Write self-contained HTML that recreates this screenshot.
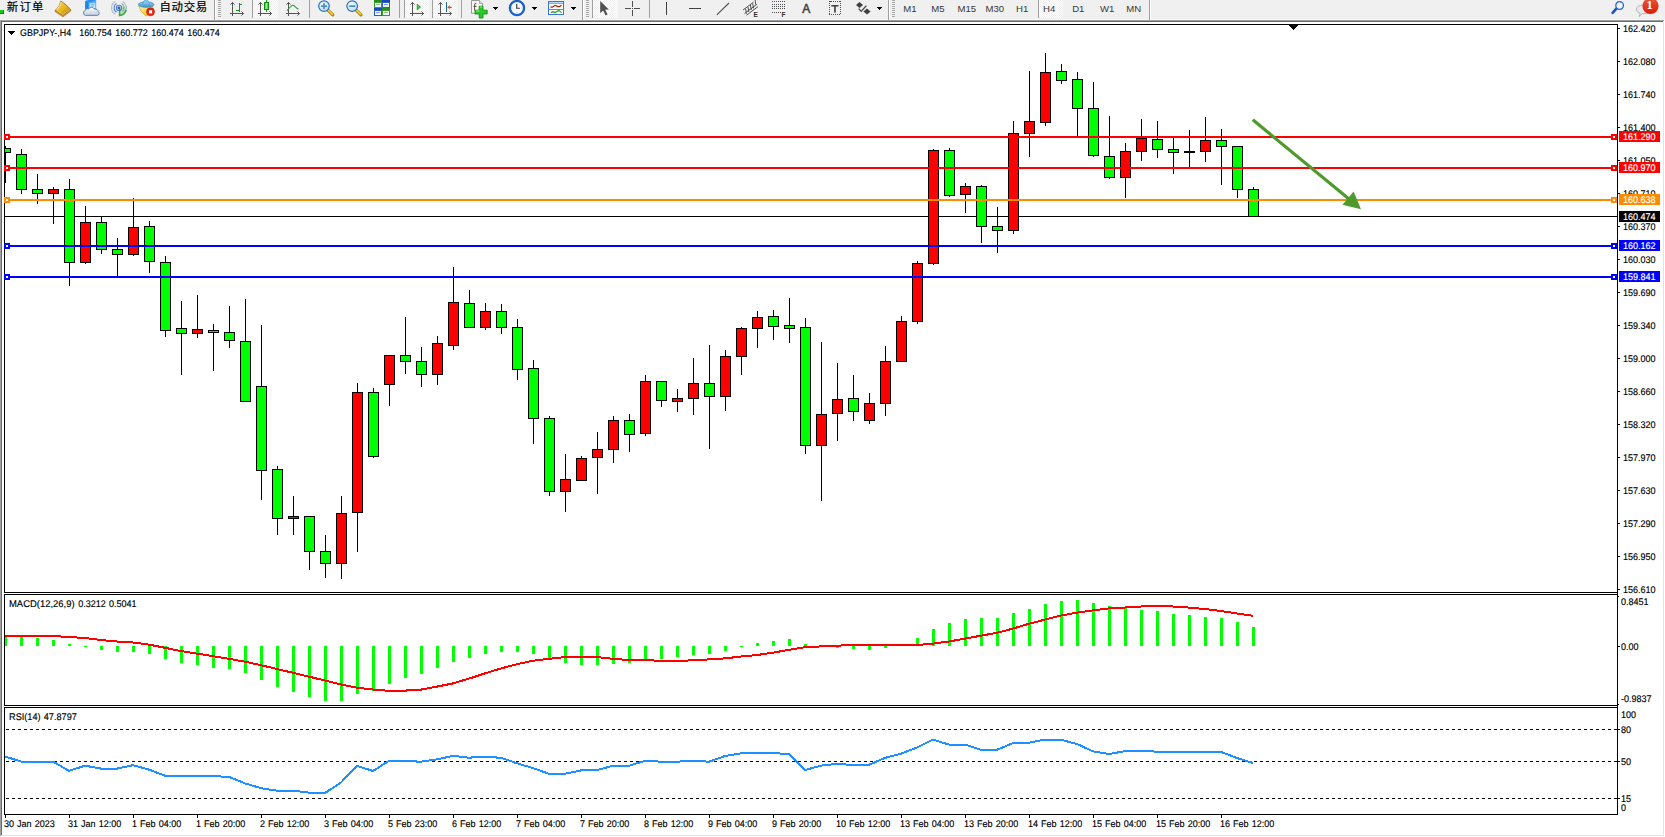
<!DOCTYPE html>
<html lang="zh"><head><meta charset="utf-8"><title>GBPJPY-,H4</title>
<style>
html,body{margin:0;padding:0;background:#fff;}
body{width:1665px;height:837px;position:relative;overflow:hidden;font-family:"Liberation Sans","Noto Sans CJK SC",sans-serif;}
#tb{position:absolute;left:0;top:0;width:1665px;height:20px;background:#f0f0f0;overflow:hidden;}
#tb .t{position:absolute;top:0;font-size:12px;line-height:14px;color:#000;white-space:nowrap;}
#tb .p{position:absolute;top:3px;font-size:11px;line-height:12px;color:#222;white-space:nowrap;}
</style></head><body>
<svg id="chart" width="1665" height="837" viewBox="0 0 1665 837" style="position:absolute;left:0;top:0" shape-rendering="crispEdges" font-family="Liberation Sans, sans-serif" font-size="9.7" text-rendering="geometricPrecision" word-spacing="0.6" stroke-width="0.15">
<rect x="0" y="19" width="1665" height="1" fill="#f6f6f6"/>
<rect x="0" y="20" width="1664" height="1" fill="#a0a0a0"/>
<rect x="0" y="21" width="1663" height="1" fill="#696969"/>
<rect x="0" y="21" width="1" height="815" fill="#a0a0a0"/>
<rect x="1" y="22" width="1" height="813" fill="#696969"/>
<rect x="1" y="835" width="1663" height="1" fill="#e3e3e3"/>
<rect x="1663" y="21" width="1" height="815" fill="#e3e3e3"/>
<rect x="2" y="22" width="1661" height="813" fill="#fff"/>
<rect x="5" y="216" width="1612" height="1" fill="#000"/>
<g id="candles">
<rect x="5" y="146" width="1" height="37" fill="#000"/>
<rect x="5" y="148" width="6" height="5" fill="#000"/>
<rect x="5" y="149" width="5" height="3" fill="#00ff00"/>
<rect x="21" y="149" width="1" height="45" fill="#000"/>
<rect x="16" y="154" width="11" height="36" fill="#000"/>
<rect x="17" y="155" width="9" height="34" fill="#00ff00"/>
<rect x="37" y="174" width="1" height="30" fill="#000"/>
<rect x="32" y="189" width="11" height="5" fill="#000"/>
<rect x="33" y="190" width="9" height="3" fill="#00ff00"/>
<rect x="53" y="187" width="1" height="37" fill="#000"/>
<rect x="48" y="189" width="11" height="5" fill="#000"/>
<rect x="49" y="190" width="9" height="3" fill="#ff0000"/>
<rect x="69" y="179" width="1" height="107" fill="#000"/>
<rect x="64" y="189" width="11" height="74" fill="#000"/>
<rect x="65" y="190" width="9" height="72" fill="#00ff00"/>
<rect x="85" y="206" width="1" height="58" fill="#000"/>
<rect x="80" y="222" width="11" height="41" fill="#000"/>
<rect x="81" y="223" width="9" height="39" fill="#ff0000"/>
<rect x="101" y="216" width="1" height="38" fill="#000"/>
<rect x="96" y="222" width="11" height="28" fill="#000"/>
<rect x="97" y="223" width="9" height="26" fill="#00ff00"/>
<rect x="117" y="238" width="1" height="38" fill="#000"/>
<rect x="112" y="249" width="11" height="6" fill="#000"/>
<rect x="113" y="250" width="9" height="4" fill="#00ff00"/>
<rect x="133" y="198" width="1" height="58" fill="#000"/>
<rect x="128" y="227" width="11" height="28" fill="#000"/>
<rect x="129" y="228" width="9" height="26" fill="#ff0000"/>
<rect x="149" y="221" width="1" height="52" fill="#000"/>
<rect x="144" y="226" width="11" height="36" fill="#000"/>
<rect x="145" y="227" width="9" height="34" fill="#00ff00"/>
<rect x="165" y="256" width="1" height="81" fill="#000"/>
<rect x="160" y="262" width="11" height="69" fill="#000"/>
<rect x="161" y="263" width="9" height="67" fill="#00ff00"/>
<rect x="181" y="301" width="1" height="74" fill="#000"/>
<rect x="176" y="328" width="11" height="6" fill="#000"/>
<rect x="177" y="329" width="9" height="4" fill="#00ff00"/>
<rect x="197" y="295" width="1" height="43" fill="#000"/>
<rect x="192" y="329" width="11" height="5" fill="#000"/>
<rect x="193" y="330" width="9" height="3" fill="#ff0000"/>
<rect x="213" y="324" width="1" height="47" fill="#000"/>
<rect x="208" y="330" width="11" height="3" fill="#000"/>
<rect x="209" y="331" width="9" height="1" fill="#00ff00"/>
<rect x="229" y="306" width="1" height="42" fill="#000"/>
<rect x="224" y="332" width="11" height="9" fill="#000"/>
<rect x="225" y="333" width="9" height="7" fill="#00ff00"/>
<rect x="245" y="299" width="1" height="103" fill="#000"/>
<rect x="240" y="341" width="11" height="61" fill="#000"/>
<rect x="241" y="342" width="9" height="59" fill="#00ff00"/>
<rect x="261" y="325" width="1" height="175" fill="#000"/>
<rect x="256" y="386" width="11" height="85" fill="#000"/>
<rect x="257" y="387" width="9" height="83" fill="#00ff00"/>
<rect x="277" y="466" width="1" height="69" fill="#000"/>
<rect x="272" y="469" width="11" height="50" fill="#000"/>
<rect x="273" y="470" width="9" height="48" fill="#00ff00"/>
<rect x="293" y="496" width="1" height="39" fill="#000"/>
<rect x="288" y="516" width="11" height="3" fill="#000"/>
<rect x="289" y="517" width="9" height="1" fill="#ff0000"/>
<rect x="309" y="516" width="1" height="54" fill="#000"/>
<rect x="304" y="516" width="11" height="36" fill="#000"/>
<rect x="305" y="517" width="9" height="34" fill="#00ff00"/>
<rect x="325" y="535" width="1" height="43" fill="#000"/>
<rect x="320" y="551" width="11" height="13" fill="#000"/>
<rect x="321" y="552" width="9" height="11" fill="#00ff00"/>
<rect x="341" y="496" width="1" height="83" fill="#000"/>
<rect x="336" y="513" width="11" height="51" fill="#000"/>
<rect x="337" y="514" width="9" height="49" fill="#ff0000"/>
<rect x="357" y="383" width="1" height="169" fill="#000"/>
<rect x="352" y="392" width="11" height="121" fill="#000"/>
<rect x="353" y="393" width="9" height="119" fill="#ff0000"/>
<rect x="373" y="388" width="1" height="70" fill="#000"/>
<rect x="368" y="392" width="11" height="65" fill="#000"/>
<rect x="369" y="393" width="9" height="63" fill="#00ff00"/>
<rect x="389" y="355" width="1" height="51" fill="#000"/>
<rect x="384" y="355" width="11" height="30" fill="#000"/>
<rect x="385" y="356" width="9" height="28" fill="#ff0000"/>
<rect x="405" y="317" width="1" height="57" fill="#000"/>
<rect x="400" y="355" width="11" height="7" fill="#000"/>
<rect x="401" y="356" width="9" height="5" fill="#00ff00"/>
<rect x="421" y="347" width="1" height="40" fill="#000"/>
<rect x="416" y="361" width="11" height="14" fill="#000"/>
<rect x="417" y="362" width="9" height="12" fill="#00ff00"/>
<rect x="437" y="336" width="1" height="49" fill="#000"/>
<rect x="432" y="343" width="11" height="32" fill="#000"/>
<rect x="433" y="344" width="9" height="30" fill="#ff0000"/>
<rect x="453" y="267" width="1" height="83" fill="#000"/>
<rect x="448" y="302" width="11" height="44" fill="#000"/>
<rect x="449" y="303" width="9" height="42" fill="#ff0000"/>
<rect x="469" y="290" width="1" height="38" fill="#000"/>
<rect x="464" y="303" width="11" height="25" fill="#000"/>
<rect x="465" y="304" width="9" height="23" fill="#00ff00"/>
<rect x="485" y="303" width="1" height="27" fill="#000"/>
<rect x="480" y="311" width="11" height="17" fill="#000"/>
<rect x="481" y="312" width="9" height="15" fill="#ff0000"/>
<rect x="501" y="304" width="1" height="30" fill="#000"/>
<rect x="496" y="311" width="11" height="17" fill="#000"/>
<rect x="497" y="312" width="9" height="15" fill="#00ff00"/>
<rect x="517" y="319" width="1" height="61" fill="#000"/>
<rect x="512" y="327" width="11" height="43" fill="#000"/>
<rect x="513" y="328" width="9" height="41" fill="#00ff00"/>
<rect x="533" y="360" width="1" height="84" fill="#000"/>
<rect x="528" y="368" width="11" height="51" fill="#000"/>
<rect x="529" y="369" width="9" height="49" fill="#00ff00"/>
<rect x="549" y="416" width="1" height="80" fill="#000"/>
<rect x="544" y="418" width="11" height="74" fill="#000"/>
<rect x="545" y="419" width="9" height="72" fill="#00ff00"/>
<rect x="565" y="454" width="1" height="58" fill="#000"/>
<rect x="560" y="479" width="11" height="13" fill="#000"/>
<rect x="561" y="480" width="9" height="11" fill="#ff0000"/>
<rect x="581" y="456" width="1" height="25" fill="#000"/>
<rect x="576" y="458" width="11" height="23" fill="#000"/>
<rect x="577" y="459" width="9" height="21" fill="#ff0000"/>
<rect x="597" y="432" width="1" height="62" fill="#000"/>
<rect x="592" y="449" width="11" height="9" fill="#000"/>
<rect x="593" y="450" width="9" height="7" fill="#ff0000"/>
<rect x="613" y="416" width="1" height="47" fill="#000"/>
<rect x="608" y="420" width="11" height="30" fill="#000"/>
<rect x="609" y="421" width="9" height="28" fill="#ff0000"/>
<rect x="629" y="414" width="1" height="38" fill="#000"/>
<rect x="624" y="420" width="11" height="15" fill="#000"/>
<rect x="625" y="421" width="9" height="13" fill="#00ff00"/>
<rect x="645" y="375" width="1" height="61" fill="#000"/>
<rect x="640" y="381" width="11" height="53" fill="#000"/>
<rect x="641" y="382" width="9" height="51" fill="#ff0000"/>
<rect x="661" y="381" width="1" height="26" fill="#000"/>
<rect x="656" y="381" width="11" height="20" fill="#000"/>
<rect x="657" y="382" width="9" height="18" fill="#00ff00"/>
<rect x="677" y="389" width="1" height="23" fill="#000"/>
<rect x="672" y="398" width="11" height="4" fill="#000"/>
<rect x="673" y="399" width="9" height="2" fill="#ff0000"/>
<rect x="693" y="358" width="1" height="57" fill="#000"/>
<rect x="688" y="383" width="11" height="16" fill="#000"/>
<rect x="689" y="384" width="9" height="14" fill="#ff0000"/>
<rect x="709" y="345" width="1" height="104" fill="#000"/>
<rect x="704" y="383" width="11" height="14" fill="#000"/>
<rect x="705" y="384" width="9" height="12" fill="#00ff00"/>
<rect x="725" y="350" width="1" height="61" fill="#000"/>
<rect x="720" y="356" width="11" height="41" fill="#000"/>
<rect x="721" y="357" width="9" height="39" fill="#ff0000"/>
<rect x="741" y="327" width="1" height="48" fill="#000"/>
<rect x="736" y="328" width="11" height="29" fill="#000"/>
<rect x="737" y="329" width="9" height="27" fill="#ff0000"/>
<rect x="757" y="311" width="1" height="37" fill="#000"/>
<rect x="752" y="317" width="11" height="12" fill="#000"/>
<rect x="753" y="318" width="9" height="10" fill="#ff0000"/>
<rect x="773" y="310" width="1" height="30" fill="#000"/>
<rect x="768" y="316" width="11" height="11" fill="#000"/>
<rect x="769" y="317" width="9" height="9" fill="#00ff00"/>
<rect x="789" y="298" width="1" height="45" fill="#000"/>
<rect x="784" y="325" width="11" height="4" fill="#000"/>
<rect x="785" y="326" width="9" height="2" fill="#00ff00"/>
<rect x="805" y="318" width="1" height="136" fill="#000"/>
<rect x="800" y="327" width="11" height="119" fill="#000"/>
<rect x="801" y="328" width="9" height="117" fill="#00ff00"/>
<rect x="821" y="342" width="1" height="159" fill="#000"/>
<rect x="816" y="414" width="11" height="32" fill="#000"/>
<rect x="817" y="415" width="9" height="30" fill="#ff0000"/>
<rect x="837" y="363" width="1" height="78" fill="#000"/>
<rect x="832" y="399" width="11" height="15" fill="#000"/>
<rect x="833" y="400" width="9" height="13" fill="#ff0000"/>
<rect x="853" y="375" width="1" height="46" fill="#000"/>
<rect x="848" y="398" width="11" height="14" fill="#000"/>
<rect x="849" y="399" width="9" height="12" fill="#00ff00"/>
<rect x="869" y="393" width="1" height="31" fill="#000"/>
<rect x="864" y="403" width="11" height="18" fill="#000"/>
<rect x="865" y="404" width="9" height="16" fill="#ff0000"/>
<rect x="885" y="346" width="1" height="70" fill="#000"/>
<rect x="880" y="361" width="11" height="43" fill="#000"/>
<rect x="881" y="362" width="9" height="41" fill="#ff0000"/>
<rect x="901" y="316" width="1" height="46" fill="#000"/>
<rect x="896" y="321" width="11" height="41" fill="#000"/>
<rect x="897" y="322" width="9" height="39" fill="#ff0000"/>
<rect x="917" y="261" width="1" height="63" fill="#000"/>
<rect x="912" y="263" width="11" height="59" fill="#000"/>
<rect x="913" y="264" width="9" height="57" fill="#ff0000"/>
<rect x="933" y="149" width="1" height="116" fill="#000"/>
<rect x="928" y="150" width="11" height="114" fill="#000"/>
<rect x="929" y="151" width="9" height="112" fill="#ff0000"/>
<rect x="949" y="148" width="1" height="49" fill="#000"/>
<rect x="944" y="150" width="11" height="46" fill="#000"/>
<rect x="945" y="151" width="9" height="44" fill="#00ff00"/>
<rect x="965" y="183" width="1" height="30" fill="#000"/>
<rect x="960" y="186" width="11" height="9" fill="#000"/>
<rect x="961" y="187" width="9" height="7" fill="#ff0000"/>
<rect x="981" y="185" width="1" height="58" fill="#000"/>
<rect x="976" y="186" width="11" height="41" fill="#000"/>
<rect x="977" y="187" width="9" height="39" fill="#00ff00"/>
<rect x="997" y="207" width="1" height="46" fill="#000"/>
<rect x="992" y="226" width="11" height="5" fill="#000"/>
<rect x="993" y="227" width="9" height="3" fill="#00ff00"/>
<rect x="1013" y="121" width="1" height="113" fill="#000"/>
<rect x="1008" y="133" width="11" height="98" fill="#000"/>
<rect x="1009" y="134" width="9" height="96" fill="#ff0000"/>
<rect x="1029" y="71" width="1" height="86" fill="#000"/>
<rect x="1024" y="121" width="11" height="13" fill="#000"/>
<rect x="1025" y="122" width="9" height="11" fill="#ff0000"/>
<rect x="1045" y="53" width="1" height="73" fill="#000"/>
<rect x="1040" y="72" width="11" height="51" fill="#000"/>
<rect x="1041" y="73" width="9" height="49" fill="#ff0000"/>
<rect x="1061" y="64" width="1" height="20" fill="#000"/>
<rect x="1056" y="71" width="11" height="10" fill="#000"/>
<rect x="1057" y="72" width="9" height="8" fill="#00ff00"/>
<rect x="1077" y="72" width="1" height="64" fill="#000"/>
<rect x="1072" y="79" width="11" height="30" fill="#000"/>
<rect x="1073" y="80" width="9" height="28" fill="#00ff00"/>
<rect x="1093" y="82" width="1" height="75" fill="#000"/>
<rect x="1088" y="108" width="11" height="48" fill="#000"/>
<rect x="1089" y="109" width="9" height="46" fill="#00ff00"/>
<rect x="1109" y="116" width="1" height="63" fill="#000"/>
<rect x="1104" y="156" width="11" height="22" fill="#000"/>
<rect x="1105" y="157" width="9" height="20" fill="#00ff00"/>
<rect x="1125" y="143" width="1" height="55" fill="#000"/>
<rect x="1120" y="151" width="11" height="27" fill="#000"/>
<rect x="1121" y="152" width="9" height="25" fill="#ff0000"/>
<rect x="1141" y="119" width="1" height="42" fill="#000"/>
<rect x="1136" y="138" width="11" height="14" fill="#000"/>
<rect x="1137" y="139" width="9" height="12" fill="#ff0000"/>
<rect x="1157" y="121" width="1" height="37" fill="#000"/>
<rect x="1152" y="139" width="11" height="11" fill="#000"/>
<rect x="1153" y="140" width="9" height="9" fill="#00ff00"/>
<rect x="1173" y="138" width="1" height="36" fill="#000"/>
<rect x="1168" y="149" width="11" height="4" fill="#000"/>
<rect x="1169" y="150" width="9" height="2" fill="#00ff00"/>
<rect x="1189" y="130" width="1" height="37" fill="#000"/>
<rect x="1184" y="151" width="11" height="2" fill="#000"/>
<rect x="1205" y="117" width="1" height="45" fill="#000"/>
<rect x="1200" y="140" width="11" height="12" fill="#000"/>
<rect x="1201" y="141" width="9" height="10" fill="#ff0000"/>
<rect x="1221" y="129" width="1" height="56" fill="#000"/>
<rect x="1216" y="140" width="11" height="7" fill="#000"/>
<rect x="1217" y="141" width="9" height="5" fill="#00ff00"/>
<rect x="1237" y="146" width="1" height="52" fill="#000"/>
<rect x="1232" y="146" width="11" height="44" fill="#000"/>
<rect x="1233" y="147" width="9" height="42" fill="#00ff00"/>
<rect x="1253" y="187" width="1" height="30" fill="#000"/>
<rect x="1248" y="189" width="11" height="28" fill="#000"/>
<rect x="1249" y="190" width="9" height="26" fill="#00ff00"/>
</g>
<rect x="5" y="136" width="1612" height="2" fill="#ff0000"/>
<rect x="4" y="134" width="6" height="6" fill="#ff0000"/>
<rect x="6" y="136" width="2" height="2" fill="#fff"/>
<rect x="1611" y="134" width="6" height="6" fill="#ff0000"/>
<rect x="1613" y="136" width="2" height="2" fill="#fff"/>
<rect x="5" y="167" width="1612" height="2" fill="#ff0000"/>
<rect x="4" y="165" width="6" height="6" fill="#ff0000"/>
<rect x="6" y="167" width="2" height="2" fill="#fff"/>
<rect x="1611" y="165" width="6" height="6" fill="#ff0000"/>
<rect x="1613" y="167" width="2" height="2" fill="#fff"/>
<rect x="5" y="199" width="1612" height="2" fill="#ff8c00"/>
<rect x="4" y="197" width="6" height="6" fill="#ff8c00"/>
<rect x="6" y="199" width="2" height="2" fill="#fff"/>
<rect x="1611" y="197" width="6" height="6" fill="#ff8c00"/>
<rect x="1613" y="199" width="2" height="2" fill="#fff"/>
<rect x="5" y="245" width="1612" height="2" fill="#0000ff"/>
<rect x="4" y="243" width="6" height="6" fill="#0000ff"/>
<rect x="6" y="245" width="2" height="2" fill="#fff"/>
<rect x="1611" y="243" width="6" height="6" fill="#0000ff"/>
<rect x="1613" y="245" width="2" height="2" fill="#fff"/>
<rect x="5" y="276" width="1612" height="2" fill="#0000ff"/>
<rect x="4" y="274" width="6" height="6" fill="#0000ff"/>
<rect x="6" y="276" width="2" height="2" fill="#fff"/>
<rect x="1611" y="274" width="6" height="6" fill="#0000ff"/>
<rect x="1613" y="276" width="2" height="2" fill="#fff"/>
<g shape-rendering="geometricPrecision"><line x1="1252.8" y1="119.8" x2="1349" y2="199" stroke="#4e9a2c" stroke-width="3.2"/><polygon points="1361,209.3 1342.5,204.8 1353.6,191.6" fill="#4e9a2c"/></g>
<rect x="4" y="24" width="1614" height="1" fill="#000"/>
<rect x="4" y="592" width="1614" height="1" fill="#000"/>
<rect x="4" y="24" width="1" height="569" fill="#000"/>
<rect x="1617" y="24" width="1" height="791" fill="#000"/>
<rect x="4" y="134" width="6" height="6" fill="#ff0000"/>
<rect x="6" y="136" width="2" height="2" fill="#fff"/>
<rect x="1611" y="134" width="6" height="6" fill="#ff0000"/>
<rect x="1613" y="136" width="2" height="2" fill="#fff"/>
<rect x="4" y="165" width="6" height="6" fill="#ff0000"/>
<rect x="6" y="167" width="2" height="2" fill="#fff"/>
<rect x="1611" y="165" width="6" height="6" fill="#ff0000"/>
<rect x="1613" y="167" width="2" height="2" fill="#fff"/>
<rect x="4" y="197" width="6" height="6" fill="#ff8c00"/>
<rect x="6" y="199" width="2" height="2" fill="#fff"/>
<rect x="1611" y="197" width="6" height="6" fill="#ff8c00"/>
<rect x="1613" y="199" width="2" height="2" fill="#fff"/>
<rect x="4" y="243" width="6" height="6" fill="#0000ff"/>
<rect x="6" y="245" width="2" height="2" fill="#fff"/>
<rect x="1611" y="243" width="6" height="6" fill="#0000ff"/>
<rect x="1613" y="245" width="2" height="2" fill="#fff"/>
<rect x="4" y="274" width="6" height="6" fill="#0000ff"/>
<rect x="6" y="276" width="2" height="2" fill="#fff"/>
<rect x="1611" y="274" width="6" height="6" fill="#0000ff"/>
<rect x="1613" y="276" width="2" height="2" fill="#fff"/>
<rect x="1617" y="24" width="1" height="791" fill="#000"/>
<rect x="1289" y="25" width="9" height="1" fill="#000"/>
<rect x="1290" y="26" width="7" height="1" fill="#000"/>
<rect x="1291" y="27" width="5" height="1" fill="#000"/>
<rect x="1292" y="28" width="3" height="1" fill="#000"/>
<rect x="1293" y="29" width="1" height="1" fill="#000"/>
<rect x="8" y="31" width="7" height="1" fill="#000"/>
<rect x="9" y="32" width="5" height="1" fill="#000"/>
<rect x="10" y="33" width="3" height="1" fill="#000"/>
<rect x="11" y="34" width="1" height="1" fill="#000"/>
<text transform="translate(20,36) scale(0.92,1)" fill="#000" stroke="#000">GBPJPY-,H4</text>
<text transform="translate(79.3,36) scale(0.93,1)" fill="#000" stroke="#000">160.754</text>
<text transform="translate(115.3,36) scale(0.93,1)" fill="#000" stroke="#000">160.772</text>
<text transform="translate(151.3,36) scale(0.93,1)" fill="#000" stroke="#000">160.474</text>
<text transform="translate(187.3,36) scale(0.93,1)" fill="#000" stroke="#000">160.474</text>
<rect x="1618" y="28" width="2" height="1" fill="#000"/>
<text transform="translate(1623,32) scale(0.93,1)" fill="#000" stroke="#000">162.420</text>
<rect x="1618" y="61" width="2" height="1" fill="#000"/>
<text transform="translate(1623,65) scale(0.93,1)" fill="#000" stroke="#000">162.080</text>
<rect x="1618" y="94" width="2" height="1" fill="#000"/>
<text transform="translate(1623,98) scale(0.93,1)" fill="#000" stroke="#000">161.740</text>
<rect x="1618" y="127" width="2" height="1" fill="#000"/>
<text transform="translate(1623,131) scale(0.93,1)" fill="#000" stroke="#000">161.400</text>
<rect x="1618" y="160" width="2" height="1" fill="#000"/>
<text transform="translate(1623,164) scale(0.93,1)" fill="#000" stroke="#000">161.050</text>
<rect x="1618" y="193" width="2" height="1" fill="#000"/>
<text transform="translate(1623,197) scale(0.93,1)" fill="#000" stroke="#000">160.710</text>
<rect x="1618" y="226" width="2" height="1" fill="#000"/>
<text transform="translate(1623,230) scale(0.93,1)" fill="#000" stroke="#000">160.370</text>
<rect x="1618" y="259" width="2" height="1" fill="#000"/>
<text transform="translate(1623,263) scale(0.93,1)" fill="#000" stroke="#000">160.030</text>
<rect x="1618" y="292" width="2" height="1" fill="#000"/>
<text transform="translate(1623,296) scale(0.93,1)" fill="#000" stroke="#000">159.690</text>
<rect x="1618" y="325" width="2" height="1" fill="#000"/>
<text transform="translate(1623,329) scale(0.93,1)" fill="#000" stroke="#000">159.340</text>
<rect x="1618" y="358" width="2" height="1" fill="#000"/>
<text transform="translate(1623,362) scale(0.93,1)" fill="#000" stroke="#000">159.000</text>
<rect x="1618" y="391" width="2" height="1" fill="#000"/>
<text transform="translate(1623,395) scale(0.93,1)" fill="#000" stroke="#000">158.660</text>
<rect x="1618" y="424" width="2" height="1" fill="#000"/>
<text transform="translate(1623,428) scale(0.93,1)" fill="#000" stroke="#000">158.320</text>
<rect x="1618" y="457" width="2" height="1" fill="#000"/>
<text transform="translate(1623,461) scale(0.93,1)" fill="#000" stroke="#000">157.970</text>
<rect x="1618" y="490" width="2" height="1" fill="#000"/>
<text transform="translate(1623,494) scale(0.93,1)" fill="#000" stroke="#000">157.630</text>
<rect x="1618" y="523" width="2" height="1" fill="#000"/>
<text transform="translate(1623,527) scale(0.93,1)" fill="#000" stroke="#000">157.290</text>
<rect x="1618" y="556" width="2" height="1" fill="#000"/>
<text transform="translate(1623,560) scale(0.93,1)" fill="#000" stroke="#000">156.950</text>
<rect x="1618" y="589" width="2" height="1" fill="#000"/>
<text transform="translate(1623,593) scale(0.93,1)" fill="#000" stroke="#000">156.610</text>
<rect x="1619" y="131" width="41" height="11" fill="#ff0000"/>
<text transform="translate(1623,140) scale(0.93,1)" fill="#fff" stroke="#fff">161.290</text>
<rect x="1619" y="162" width="41" height="11" fill="#ff0000"/>
<text transform="translate(1623,171) scale(0.93,1)" fill="#fff" stroke="#fff">160.970</text>
<rect x="1619" y="194" width="41" height="11" fill="#ff8c00"/>
<text transform="translate(1623,203) scale(0.93,1)" fill="#fff" stroke="#fff">160.638</text>
<rect x="1619" y="240" width="41" height="11" fill="#0000ff"/>
<text transform="translate(1623,249) scale(0.93,1)" fill="#fff" stroke="#fff">160.162</text>
<rect x="1619" y="271" width="41" height="11" fill="#0000ff"/>
<text transform="translate(1623,280) scale(0.93,1)" fill="#fff" stroke="#fff">159.841</text>
<rect x="1619" y="211" width="41" height="11" fill="#000"/>
<text transform="translate(1623,220) scale(0.93,1)" fill="#fff" stroke="#fff">160.474</text>
<rect x="4" y="594" width="1614" height="1" fill="#000"/>
<rect x="4" y="705" width="1614" height="1" fill="#000"/>
<rect x="4" y="594" width="1" height="112" fill="#000"/>
<g id="macd">
<rect x="5" y="635" width="2" height="11" fill="#00ff00"/>
<rect x="20" y="636" width="3" height="10" fill="#00ff00"/>
<rect x="36" y="638" width="3" height="8" fill="#00ff00"/>
<rect x="52" y="640" width="3" height="6" fill="#00ff00"/>
<rect x="68" y="644" width="3" height="2" fill="#00ff00"/>
<rect x="84" y="646" width="3" height="1" fill="#00ff00"/>
<rect x="100" y="646" width="3" height="4" fill="#00ff00"/>
<rect x="116" y="646" width="3" height="6" fill="#00ff00"/>
<rect x="132" y="646" width="3" height="6" fill="#00ff00"/>
<rect x="148" y="646" width="3" height="8" fill="#00ff00"/>
<rect x="164" y="646" width="3" height="13" fill="#00ff00"/>
<rect x="180" y="646" width="3" height="17" fill="#00ff00"/>
<rect x="196" y="646" width="3" height="19" fill="#00ff00"/>
<rect x="212" y="646" width="3" height="22" fill="#00ff00"/>
<rect x="228" y="646" width="3" height="23" fill="#00ff00"/>
<rect x="244" y="646" width="3" height="27" fill="#00ff00"/>
<rect x="260" y="646" width="3" height="34" fill="#00ff00"/>
<rect x="276" y="646" width="3" height="41" fill="#00ff00"/>
<rect x="292" y="646" width="3" height="46" fill="#00ff00"/>
<rect x="308" y="646" width="3" height="51" fill="#00ff00"/>
<rect x="324" y="646" width="3" height="55" fill="#00ff00"/>
<rect x="340" y="646" width="3" height="55" fill="#00ff00"/>
<rect x="356" y="646" width="3" height="48" fill="#00ff00"/>
<rect x="372" y="646" width="3" height="45" fill="#00ff00"/>
<rect x="388" y="646" width="3" height="38" fill="#00ff00"/>
<rect x="404" y="646" width="3" height="32" fill="#00ff00"/>
<rect x="420" y="646" width="3" height="28" fill="#00ff00"/>
<rect x="436" y="646" width="3" height="22" fill="#00ff00"/>
<rect x="452" y="646" width="3" height="16" fill="#00ff00"/>
<rect x="468" y="646" width="3" height="12" fill="#00ff00"/>
<rect x="484" y="646" width="3" height="8" fill="#00ff00"/>
<rect x="500" y="646" width="3" height="6" fill="#00ff00"/>
<rect x="516" y="646" width="3" height="6" fill="#00ff00"/>
<rect x="532" y="646" width="3" height="8" fill="#00ff00"/>
<rect x="548" y="646" width="3" height="13" fill="#00ff00"/>
<rect x="564" y="646" width="3" height="17" fill="#00ff00"/>
<rect x="580" y="646" width="3" height="19" fill="#00ff00"/>
<rect x="596" y="646" width="3" height="19" fill="#00ff00"/>
<rect x="612" y="646" width="3" height="18" fill="#00ff00"/>
<rect x="628" y="646" width="3" height="17" fill="#00ff00"/>
<rect x="644" y="646" width="3" height="13" fill="#00ff00"/>
<rect x="660" y="646" width="3" height="13" fill="#00ff00"/>
<rect x="676" y="646" width="3" height="11" fill="#00ff00"/>
<rect x="692" y="646" width="3" height="9" fill="#00ff00"/>
<rect x="708" y="646" width="3" height="8" fill="#00ff00"/>
<rect x="724" y="646" width="3" height="5" fill="#00ff00"/>
<rect x="740" y="646" width="3" height="1" fill="#00ff00"/>
<rect x="756" y="643" width="3" height="3" fill="#00ff00"/>
<rect x="772" y="641" width="3" height="5" fill="#00ff00"/>
<rect x="788" y="639" width="3" height="7" fill="#00ff00"/>
<rect x="804" y="644" width="3" height="2" fill="#00ff00"/>
<rect x="836" y="646" width="3" height="2" fill="#00ff00"/>
<rect x="852" y="646" width="3" height="3" fill="#00ff00"/>
<rect x="868" y="646" width="3" height="4" fill="#00ff00"/>
<rect x="884" y="646" width="3" height="2" fill="#00ff00"/>
<rect x="916" y="638" width="3" height="8" fill="#00ff00"/>
<rect x="932" y="629" width="3" height="17" fill="#00ff00"/>
<rect x="948" y="623" width="3" height="23" fill="#00ff00"/>
<rect x="964" y="619" width="3" height="27" fill="#00ff00"/>
<rect x="980" y="618" width="3" height="28" fill="#00ff00"/>
<rect x="996" y="618" width="3" height="28" fill="#00ff00"/>
<rect x="1012" y="613" width="3" height="33" fill="#00ff00"/>
<rect x="1028" y="609" width="3" height="37" fill="#00ff00"/>
<rect x="1044" y="604" width="3" height="42" fill="#00ff00"/>
<rect x="1060" y="601" width="3" height="45" fill="#00ff00"/>
<rect x="1076" y="600" width="3" height="46" fill="#00ff00"/>
<rect x="1092" y="603" width="3" height="43" fill="#00ff00"/>
<rect x="1108" y="606" width="3" height="40" fill="#00ff00"/>
<rect x="1124" y="607" width="3" height="39" fill="#00ff00"/>
<rect x="1140" y="610" width="3" height="36" fill="#00ff00"/>
<rect x="1156" y="611" width="3" height="35" fill="#00ff00"/>
<rect x="1172" y="614" width="3" height="32" fill="#00ff00"/>
<rect x="1188" y="615" width="3" height="31" fill="#00ff00"/>
<rect x="1204" y="617" width="3" height="29" fill="#00ff00"/>
<rect x="1220" y="618" width="3" height="28" fill="#00ff00"/>
<rect x="1236" y="622" width="3" height="24" fill="#00ff00"/>
<rect x="1252" y="627" width="3" height="19" fill="#00ff00"/>
</g>
<polyline points="5,636.0 21,636.0 37,636.0 53,636.0 69,637.0 85,638.0 101,640.0 117,641.5 133,642.5 149,644.6 165,647.8 181,651.1 197,653.6 213,656.1 229,658.8 245,661.7 261,665.2 277,669.0 293,672.8 309,676.7 325,680.5 341,684.4 357,687.7 373,689.5 389,690.8 405,690.6 421,689.6 437,686.6 453,683.4 469,678.6 485,673.4 501,668.4 517,664.2 533,660.7 549,658.8 565,657.1 581,657.1 597,657.1 613,658.8 629,660.0 645,660.0 661,660.9 677,661.0 693,660.3 709,659.4 725,658.4 741,656.5 757,655.0 773,652.7 789,649.8 805,647.2 821,646.4 837,645.7 853,645 869,645.0 885,645.0 901,645.0 917,645.0 933,643.6 949,641.5 965,638.6 981,635.7 997,632.8 1013,628.6 1029,623.8 1045,619.6 1061,615.5 1077,612.7 1093,610.3 1109,608.4 1125,607.5 1141,606.5 1157,606.0 1173,606.5 1189,607.6 1205,609.0 1221,611.0 1237,613.5 1253,615.8" fill="none" stroke="#ff0000" stroke-width="2"/>
<text transform="translate(9,607) scale(0.975,1)" fill="#000" stroke="#000">MACD(12,26,9)</text>
<text transform="translate(78.2,607) scale(0.93,1)" fill="#000" stroke="#000">0.3212</text>
<text transform="translate(109,607) scale(0.93,1)" fill="#000" stroke="#000">0.5041</text>
<rect x="1618" y="596" width="1" height="1" fill="#000"/>
<text transform="translate(1621,605) scale(0.93,1)" fill="#000" stroke="#000">0.8451</text>
<rect x="1618" y="646" width="2" height="1" fill="#000"/>
<text transform="translate(1621,650) scale(0.93,1)" fill="#000" stroke="#000">0.00</text>
<rect x="1618" y="704" width="1" height="1" fill="#000"/>
<text transform="translate(1621,702) scale(0.93,1)" fill="#000" stroke="#000">-0.9837</text>
<rect x="4" y="707" width="1614" height="1" fill="#000"/>
<rect x="4" y="814" width="1614" height="1" fill="#000"/>
<rect x="4" y="707" width="1" height="108" fill="#000"/>
<line x1="6" y1="729.5" x2="1617" y2="729.5" stroke="#000" stroke-width="1" stroke-dasharray="3 3"/>
<rect x="1618" y="729" width="2" height="1" fill="#000"/>
<line x1="6" y1="761.5" x2="1617" y2="761.5" stroke="#000" stroke-width="1" stroke-dasharray="3 3"/>
<rect x="1618" y="761" width="2" height="1" fill="#000"/>
<line x1="6" y1="798.5" x2="1617" y2="798.5" stroke="#000" stroke-width="1" stroke-dasharray="3 3"/>
<rect x="1618" y="798" width="2" height="1" fill="#000"/>
<polyline points="5,756.5 21,761.5 37,761.5 53,761.5 69,770.9 85,765.7 101,768.6 117,768.6 133,765.2 149,769.6 165,775.7 181,775.7 197,775.7 213,776.1 229,776.9 245,783.4 261,788.2 277,790.7 293,790.7 309,792.6 325,793 341,782.5 357,765.8 373,771 389,760.8 405,761 421,761.7 437,759.4 453,755.8 469,757.7 485,756.5 501,757.9 517,763.3 533,768.1 549,773.8 565,773.8 581,770.4 597,770 613,765.8 629,765.8 645,760.8 661,761.7 677,761.7 693,760.8 709,761.7 725,756 741,753.3 757,752.9 773,753.1 789,754 805,770 821,765.6 837,763.8 853,765 869,764.8 885,757.9 901,753.7 917,747.5 933,739.6 949,744.6 965,744.6 981,749.8 997,749.8 1013,743.1 1029,742.7 1045,739.6 1061,739.8 1077,744 1093,751.3 1109,754 1125,751.2 1141,750.8 1157,751.7 1173,751.7 1189,751.7 1205,751.7 1221,752 1237,758 1253,763" fill="none" stroke="#1e90ff" stroke-width="2"/>
<text transform="translate(9,720) scale(0.947,1)" fill="#000" stroke="#000">RSI(14) 47.8797</text>
<text transform="translate(1621,718) scale(0.93,1)" fill="#000" stroke="#000">100</text>
<text transform="translate(1621,733) scale(0.93,1)" fill="#000" stroke="#000">80</text>
<text transform="translate(1621,765) scale(0.93,1)" fill="#000" stroke="#000">50</text>
<text transform="translate(1621,802) scale(0.93,1)" fill="#000" stroke="#000">15</text>
<text transform="translate(1621,811) scale(0.93,1)" fill="#000" stroke="#000">0</text>
<rect x="5" y="815" width="1" height="3" fill="#000"/>
<text transform="translate(4,827) scale(0.93,1)" fill="#000" stroke="#000">30 Jan 2023</text>
<rect x="69" y="815" width="1" height="3" fill="#000"/>
<text transform="translate(68,827) scale(0.93,1)" fill="#000" stroke="#000">31 Jan 12:00</text>
<rect x="133" y="815" width="1" height="3" fill="#000"/>
<text transform="translate(132,827) scale(0.93,1)" fill="#000" stroke="#000">1 Feb 04:00</text>
<rect x="197" y="815" width="1" height="3" fill="#000"/>
<text transform="translate(196,827) scale(0.93,1)" fill="#000" stroke="#000">1 Feb 20:00</text>
<rect x="261" y="815" width="1" height="3" fill="#000"/>
<text transform="translate(260,827) scale(0.93,1)" fill="#000" stroke="#000">2 Feb 12:00</text>
<rect x="325" y="815" width="1" height="3" fill="#000"/>
<text transform="translate(324,827) scale(0.93,1)" fill="#000" stroke="#000">3 Feb 04:00</text>
<rect x="389" y="815" width="1" height="3" fill="#000"/>
<text transform="translate(388,827) scale(0.93,1)" fill="#000" stroke="#000">5 Feb 23:00</text>
<rect x="453" y="815" width="1" height="3" fill="#000"/>
<text transform="translate(452,827) scale(0.93,1)" fill="#000" stroke="#000">6 Feb 12:00</text>
<rect x="517" y="815" width="1" height="3" fill="#000"/>
<text transform="translate(516,827) scale(0.93,1)" fill="#000" stroke="#000">7 Feb 04:00</text>
<rect x="581" y="815" width="1" height="3" fill="#000"/>
<text transform="translate(580,827) scale(0.93,1)" fill="#000" stroke="#000">7 Feb 20:00</text>
<rect x="645" y="815" width="1" height="3" fill="#000"/>
<text transform="translate(644,827) scale(0.93,1)" fill="#000" stroke="#000">8 Feb 12:00</text>
<rect x="709" y="815" width="1" height="3" fill="#000"/>
<text transform="translate(708,827) scale(0.93,1)" fill="#000" stroke="#000">9 Feb 04:00</text>
<rect x="773" y="815" width="1" height="3" fill="#000"/>
<text transform="translate(772,827) scale(0.93,1)" fill="#000" stroke="#000">9 Feb 20:00</text>
<rect x="837" y="815" width="1" height="3" fill="#000"/>
<text transform="translate(836,827) scale(0.93,1)" fill="#000" stroke="#000">10 Feb 12:00</text>
<rect x="901" y="815" width="1" height="3" fill="#000"/>
<text transform="translate(900,827) scale(0.93,1)" fill="#000" stroke="#000">13 Feb 04:00</text>
<rect x="965" y="815" width="1" height="3" fill="#000"/>
<text transform="translate(964,827) scale(0.93,1)" fill="#000" stroke="#000">13 Feb 20:00</text>
<rect x="1029" y="815" width="1" height="3" fill="#000"/>
<text transform="translate(1028,827) scale(0.93,1)" fill="#000" stroke="#000">14 Feb 12:00</text>
<rect x="1093" y="815" width="1" height="3" fill="#000"/>
<text transform="translate(1092,827) scale(0.93,1)" fill="#000" stroke="#000">15 Feb 04:00</text>
<rect x="1157" y="815" width="1" height="3" fill="#000"/>
<text transform="translate(1156,827) scale(0.93,1)" fill="#000" stroke="#000">15 Feb 20:00</text>
<rect x="1221" y="815" width="1" height="3" fill="#000"/>
<text transform="translate(1220,827) scale(0.93,1)" fill="#000" stroke="#000">16 Feb 12:00</text>
</svg>
<div id="tb">
<svg width="1665" height="20" viewBox="0 0 1665 20" style="position:absolute;left:0;top:0" shape-rendering="crispEdges">
<defs><pattern id="dots" width="2" height="2" patternUnits="userSpaceOnUse"><rect width="2" height="2" fill="#fff"/><rect width="1" height="1" fill="#f0f0f0"/><rect x="1" y="1" width="1" height="1" fill="#f0f0f0"/></pattern>
<linearGradient id="gold" x1="0" y1="0" x2="1" y2="1"><stop offset="0" stop-color="#f8e070"/><stop offset="0.5" stop-color="#e8b820"/><stop offset="1" stop-color="#b87818"/></linearGradient>
<linearGradient id="badge" x1="0" y1="0" x2="0" y2="1"><stop offset="0" stop-color="#ea5a3a"/><stop offset="1" stop-color="#d81c04"/></linearGradient>
<radialGradient id="lens" cx="0.4" cy="0.35" r="0.7"><stop offset="0" stop-color="#f4fbff"/><stop offset="1" stop-color="#b8dcf4"/></radialGradient>
<linearGradient id="hat" x1="0" y1="0" x2="0" y2="1"><stop offset="0" stop-color="#8fd0f0"/><stop offset="1" stop-color="#3a98d0"/></linearGradient>
<linearGradient id="face" x1="0" y1="0" x2="1" y2="1"><stop offset="0" stop-color="#fff4a8"/><stop offset="0.6" stop-color="#f8d040"/><stop offset="1" stop-color="#e0a010"/></linearGradient>
<linearGradient id="cloud" x1="0" y1="0" x2="0" y2="1"><stop offset="0" stop-color="#ffffff"/><stop offset="1" stop-color="#c0cce0"/></linearGradient>
<linearGradient id="cgreen" x1="0" y1="0" x2="1" y2="0"><stop offset="0" stop-color="#20c020"/><stop offset="0.5" stop-color="#90f090"/><stop offset="1" stop-color="#20c020"/></linearGradient>
<linearGradient id="sig" x1="0" y1="0" x2="1" y2="0"><stop offset="0" stop-color="#3a6ad8"/><stop offset="0.55" stop-color="#3a6ad8"/><stop offset="1" stop-color="#40a840"/></linearGradient>
</defs>
<rect x="0" y="19" width="1665" height="1" fill="#f6f6f6"/>
<rect x="0" y="10" width="4" height="4" fill="#18c818"/>
<rect x="0" y="13" width="4" height="1" fill="#0a8a0a"/>
<rect x="3" y="10" width="1" height="4" fill="#0a8a0a"/>
<g shape-rendering="geometricPrecision">
<path d="M60.9,1 Q66,4.2 70.6,9.4 L62.8,15.4 L55.3,10.4 Q59.8,7 60.9,1 Z" fill="url(#gold)" stroke="#a8701a" stroke-width="0.9" stroke-linejoin="round"/>
<path d="M55.3,10.4 L62.8,15.4 L70.6,9.4 L70.8,11 L63,16.8 L55.2,11.8 Z" fill="#c89838" stroke="#94600f" stroke-width="0.5"/>
<path d="M56.8,10.8 L62.8,14.6 L69.8,9.4" fill="none" stroke="#fff4c0" stroke-width="0.6" opacity="0.8"/>
<path d="M61.2,1.8 Q60.2,6.6 56.6,9.8" fill="none" stroke="#fff8d0" stroke-width="0.9" opacity="0.85"/>
<polygon points="85.2,1 88.6,0 96.2,0 96.2,9.5 85.2,9.5" fill="#58b0f8"/>
<polygon points="85.2,1 88.6,2.4 88.6,10 85.2,9.5" fill="#1a86f0"/>
<polygon points="85.2,1 88.6,0 96.2,0 93,1.6 88.6,2.4" fill="#2a90f4"/>
<rect x="89.6" y="3.4" width="5.6" height="4.6" fill="#e8f4ff"/>
<rect x="90.4" y="4.4" width="4" height="1" fill="#3a98f0"/><rect x="90.4" y="6.2" width="4" height="0.8" fill="#8ac4f8"/>
<path d="M85.6,15.4 a2.5,2.5 0 0 1 -0.3,-4.9 a2.3,2.3 0 0 1 3.4,-1.5 a3.3,3.3 0 0 1 5.9,0.3 a2.6,2.6 0 0 1 3.6,2.4 a2,2 0 0 1 -1,3.7 z" fill="url(#cloud)" stroke="#5a78b0" stroke-width="0.9"/>
<g transform="translate(0,0.9)">
<path d="M115.3,0.6 A7.4,7.4 0 0 0 115.3,13.4" fill="none" stroke="#4a74d8" stroke-width="1.1" opacity="0.45"/>
<path d="M116.5,2.7 A5,5 0 0 0 116.5,11.3" fill="none" stroke="#3a66d4" stroke-width="1.2" opacity="0.8"/>
<path d="M119,7 L119,14.6 A7.6,7.6 0 0 0 126.4,5 Z" fill="#8cc890" opacity="0.45"/>
<path d="M122.7,0.6 A7.4,7.4 0 0 1 124.5,12" fill="none" stroke="#6aa0a8" stroke-width="1.1" opacity="0.6"/>
<path d="M121.5,2.7 A5,5 0 0 1 122.6,10.5" fill="none" stroke="#5a9aa0" stroke-width="1.2" opacity="0.8"/>
<circle cx="119" cy="7" r="2.6" fill="none" stroke="#3a6ad8" stroke-width="1.1" opacity="0.9"/>
<path d="M119.6,7.5 L119.6,14.6 Q124.4,14 126.2,9" fill="none" stroke="#38a838" stroke-width="1.6"/>
<circle cx="118.9" cy="6.9" r="1.4" fill="#2a5cd0"/>
</g>
<path d="M138.8,6.2 Q139.6,10.4 145.2,15.4 Q146.2,16.2 147.2,15.4 L153.2,9.6 L152.6,6.2 Z" fill="url(#face)" stroke="#d8a020" stroke-width="0.7"/>
<ellipse cx="146.1" cy="4.6" rx="7.8" ry="2.7" fill="url(#hat)" stroke="#2a80c0" stroke-width="0.7"/>
<path d="M142.4,4.2 Q143.2,0.4 146.1,-0.8 Q149,0.4 149.8,4.2 Q146.1,5.4 142.4,4.2 Z" fill="#7cc4ec" stroke="#3a90cc" stroke-width="0.5"/>
<circle cx="150.5" cy="11.8" r="4" fill="#e02810" stroke="#b81808" stroke-width="0.6"/>
<rect x="149" y="10.3" width="3.1" height="3.1" fill="#fff"/>
</g>
<rect x="214" y="0" width="1" height="20" fill="#a0a0a0"/>
<rect x="215" y="0" width="1" height="20" fill="#fff"/>
<rect x="218" y="0" width="3" height="1" fill="#a8a8a8"/>
<rect x="218" y="2" width="3" height="1" fill="#a8a8a8"/>
<rect x="218" y="4" width="3" height="1" fill="#a8a8a8"/>
<rect x="218" y="6" width="3" height="1" fill="#a8a8a8"/>
<rect x="218" y="8" width="3" height="1" fill="#a8a8a8"/>
<rect x="218" y="10" width="3" height="1" fill="#a8a8a8"/>
<rect x="218" y="12" width="3" height="1" fill="#a8a8a8"/>
<rect x="218" y="14" width="3" height="1" fill="#a8a8a8"/>
<rect x="218" y="16" width="3" height="1" fill="#a8a8a8"/>
<rect x="232" y="2" width="1" height="14" fill="#555"/>
<rect x="230" y="13" width="14" height="1" fill="#555"/>
<rect x="231" y="3" width="3" height="1" fill="#555"/>
<rect x="230" y="4" width="1" height="1" fill="#999"/>
<rect x="234" y="4" width="1" height="1" fill="#999"/>
<rect x="242" y="12" width="1" height="3" fill="#555"/>
<rect x="241" y="11" width="1" height="1" fill="#999"/>
<rect x="241" y="15" width="1" height="1" fill="#999"/>
<rect x="239" y="3" width="1" height="9" fill="#189018"/>
<rect x="239" y="3" width="1" height="9" fill="#189018"/>
<rect x="240" y="4" width="2" height="1" fill="#189018"/>
<rect x="236" y="10" width="3" height="1" fill="#189018"/>
<rect x="252" y="0" width="1" height="18" fill="#a0a0a0"/>
<rect x="253" y="0" width="25" height="18" fill="url(#dots)"/>
<rect x="260" y="2" width="1" height="14" fill="#555"/>
<rect x="258" y="13" width="14" height="1" fill="#555"/>
<rect x="259" y="3" width="3" height="1" fill="#555"/>
<rect x="258" y="4" width="1" height="1" fill="#999"/>
<rect x="262" y="4" width="1" height="1" fill="#999"/>
<rect x="270" y="12" width="1" height="3" fill="#555"/>
<rect x="269" y="11" width="1" height="1" fill="#999"/>
<rect x="269" y="15" width="1" height="1" fill="#999"/>
<g shape-rendering="geometricPrecision">
<rect x="266" y="0" width="1" height="12" fill="#18a018"/>
<rect x="264.5" y="2.5" width="4" height="7" fill="url(#cgreen)" stroke="#109010" stroke-width="1"/>
</g>
<rect x="288" y="2" width="1" height="14" fill="#555"/>
<rect x="286" y="13" width="14" height="1" fill="#555"/>
<rect x="287" y="3" width="3" height="1" fill="#555"/>
<rect x="286" y="4" width="1" height="1" fill="#999"/>
<rect x="290" y="4" width="1" height="1" fill="#999"/>
<rect x="298" y="12" width="1" height="3" fill="#555"/>
<rect x="297" y="11" width="1" height="1" fill="#999"/>
<rect x="297" y="15" width="1" height="1" fill="#999"/>
<g shape-rendering="geometricPrecision"><path d="M287,10.6 Q290.5,6.5 292.2,5.4 Q293.2,5 294.2,5.8 Q296,7.4 298.4,9.2" fill="none" stroke="#2a9a2a" stroke-width="1.1"/></g>
<rect x="309" y="0" width="1" height="18" fill="#a0a0a0"/>
<g shape-rendering="geometricPrecision">
<line x1="328" y1="10.2" x2="332.8" y2="14.8" stroke="#a87a10" stroke-width="3.2" stroke-linecap="round"/>
<line x1="328.2" y1="10.2" x2="332.6" y2="14.4" stroke="#f0d040" stroke-width="1.6" stroke-linecap="round"/>
<circle cx="324" cy="6.1" r="5.3" fill="url(#lens)" stroke="#2a70c0" stroke-width="1.2"/>
<rect x="321" y="5.3" width="6" height="1.7" fill="#4a8ac8"/>
<rect x="323.15" y="3.1" width="1.7" height="6" fill="#4a8ac8"/>
</g>
<g shape-rendering="geometricPrecision">
<line x1="356.2" y1="10.2" x2="361.0" y2="14.8" stroke="#a87a10" stroke-width="3.2" stroke-linecap="round"/>
<line x1="356.4" y1="10.2" x2="360.8" y2="14.4" stroke="#f0d040" stroke-width="1.6" stroke-linecap="round"/>
<circle cx="352.2" cy="6.1" r="5.3" fill="url(#lens)" stroke="#2a70c0" stroke-width="1.2"/>
<rect x="349.2" y="5.3" width="6" height="1.7" fill="#4a8ac8"/>
</g>
<rect x="374" y="0" width="8" height="8" fill="#3aa02a"/>
<rect x="374" y="0" width="8" height="2" fill="#2a8a1a"/>
<rect x="375" y="3" width="6" height="4" fill="#f0f6ff"/>
<rect x="376" y="4" width="4" height="1" fill="#3aa02a" opacity="0.55"/>
<rect x="382" y="0" width="8" height="8" fill="#2a5ed0"/>
<rect x="382" y="0" width="8" height="2" fill="#1a46b8"/>
<rect x="383" y="3" width="6" height="4" fill="#f0f6ff"/>
<rect x="384" y="4" width="4" height="1" fill="#2a5ed0" opacity="0.55"/>
<rect x="374" y="8" width="8" height="8" fill="#2a5ed0"/>
<rect x="374" y="8" width="8" height="2" fill="#1a46b8"/>
<rect x="375" y="11" width="6" height="4" fill="#f0f6ff"/>
<rect x="376" y="12" width="4" height="1" fill="#2a5ed0" opacity="0.55"/>
<rect x="382" y="8" width="8" height="8" fill="#3aa02a"/>
<rect x="382" y="8" width="8" height="2" fill="#2a8a1a"/>
<rect x="383" y="11" width="6" height="4" fill="#f0f6ff"/>
<rect x="384" y="12" width="4" height="1" fill="#3aa02a" opacity="0.55"/>
<rect x="399" y="0" width="1" height="18" fill="#a0a0a0"/>
<rect x="404" y="0" width="1" height="18" fill="#a0a0a0"/>
<rect x="405" y="0" width="24" height="18" fill="url(#dots)"/>
<rect x="412" y="2" width="1" height="14" fill="#555"/>
<rect x="410" y="13" width="14" height="1" fill="#555"/>
<rect x="411" y="3" width="3" height="1" fill="#555"/>
<rect x="410" y="4" width="1" height="1" fill="#999"/>
<rect x="414" y="4" width="1" height="1" fill="#999"/>
<rect x="422" y="12" width="1" height="3" fill="#555"/>
<rect x="421" y="11" width="1" height="1" fill="#999"/>
<rect x="421" y="15" width="1" height="1" fill="#999"/>
<g shape-rendering="geometricPrecision"><polygon points="417.2,4.2 417.2,10 420.6,7.1" fill="#48c048" stroke="#189018" stroke-width="0.7"/></g>
<rect x="432" y="0" width="1" height="18" fill="#a0a0a0"/>
<rect x="433" y="0" width="24" height="18" fill="url(#dots)"/>
<rect x="440" y="2" width="1" height="14" fill="#555"/>
<rect x="438" y="13" width="14" height="1" fill="#555"/>
<rect x="439" y="3" width="3" height="1" fill="#555"/>
<rect x="438" y="4" width="1" height="1" fill="#999"/>
<rect x="442" y="4" width="1" height="1" fill="#999"/>
<rect x="450" y="12" width="1" height="3" fill="#555"/>
<rect x="449" y="11" width="1" height="1" fill="#999"/>
<rect x="449" y="15" width="1" height="1" fill="#999"/>
<rect x="446" y="2" width="1" height="10" fill="#1a6aa8"/>
<g shape-rendering="geometricPrecision"><polygon points="447.2,7.3 450,5.2 449.6,6.8 451.8,6.8 451.8,7.9 449.6,7.9 450,9.4" fill="#e85010"/></g>
<rect x="461" y="0" width="1" height="18" fill="#a0a0a0"/>
<g shape-rendering="geometricPrecision">
<path d="M471.5,0.5 L479.5,0.5 L482.5,3.5 L482.5,13.3 L471.5,13.3 Z" fill="#f8f8f8" stroke="#909090" stroke-width="0.9"/>
<path d="M479.5,0.5 L479.5,3.5 L482.5,3.5" fill="#e0e0e0" stroke="#909090" stroke-width="0.7"/>
<path d="M476.4,3.2 Q474.6,3 474.6,5 L474.6,10.5 M473.4,6.3 L476.6,6.3" fill="none" stroke="#504030" stroke-width="0.9"/>
<path d="M479.2,6.2 h3.8 v4 h4.2 v3.8 h-4.2 v4 h-3.8 v-4 h-4.2 v-3.8 h4.2 z" fill="#28c828" stroke="#0a8a0a" stroke-width="0.8"/>
<path d="M480,7 h2.2 M476,11 h3.6" stroke="#a0f0a0" stroke-width="0.9" fill="none"/>
</g>
<rect x="493" y="7" width="5" height="1" fill="#000"/>
<rect x="494" y="8" width="3" height="1" fill="#000"/>
<rect x="495" y="9" width="1" height="1" fill="#000"/>
<g shape-rendering="geometricPrecision">
<circle cx="517" cy="8" r="7" fill="#fcfcfc" stroke="#1a66d0" stroke-width="2.1"/>
<circle cx="517" cy="8" r="7.9" fill="none" stroke="#0a48a8" stroke-width="0.5"/>
<path d="M516.7,4 L516.7,8.3 L519.8,8.3" fill="none" stroke="#303030" stroke-width="1.1"/>
<path d="M517,2.6 v1 M517,12.4 v1 M511.6,8 h1 M521.4,8 h1" stroke="#8aa8d8" stroke-width="0.8"/>
</g>
<rect x="532" y="7" width="5" height="1" fill="#000"/>
<rect x="533" y="8" width="3" height="1" fill="#000"/>
<rect x="534" y="9" width="1" height="1" fill="#000"/>
<rect x="548" y="1" width="16" height="14" fill="#3a78d0"/>
<rect x="549" y="4" width="14" height="10" fill="#fff"/>
<rect x="549" y="2" width="14" height="1" fill="#b8d8f8"/>
<rect x="549" y="3" width="14" height="1" fill="#78b0f0"/>
<rect x="549" y="9" width="14" height="1" fill="#5a90d8"/>
<g shape-rendering="geometricPrecision"><path d="M550.5,7.2 L552.5,7.2 L554.5,5.6 L556,5.6 L557.5,6.6 L559.5,6.6 L561.5,5.2" fill="none" stroke="#a02808" stroke-width="1.2"/>
<path d="M551,12.6 L553,11.6 L555,12.6 L557,11.6 L558.8,10.4 L561.5,12.6" fill="none" stroke="#18a018" stroke-width="1.2"/></g>
<rect x="571" y="7" width="5" height="1" fill="#000"/>
<rect x="572" y="8" width="3" height="1" fill="#000"/>
<rect x="573" y="9" width="1" height="1" fill="#000"/>
<rect x="582" y="0" width="1" height="20" fill="#a0a0a0"/>
<rect x="583" y="0" width="1" height="20" fill="#fff"/>
<rect x="586" y="0" width="3" height="1" fill="#a8a8a8"/>
<rect x="586" y="2" width="3" height="1" fill="#a8a8a8"/>
<rect x="586" y="4" width="3" height="1" fill="#a8a8a8"/>
<rect x="586" y="6" width="3" height="1" fill="#a8a8a8"/>
<rect x="586" y="8" width="3" height="1" fill="#a8a8a8"/>
<rect x="586" y="10" width="3" height="1" fill="#a8a8a8"/>
<rect x="586" y="12" width="3" height="1" fill="#a8a8a8"/>
<rect x="586" y="14" width="3" height="1" fill="#a8a8a8"/>
<rect x="586" y="16" width="3" height="1" fill="#a8a8a8"/>
<rect x="592" y="0" width="1" height="18" fill="#a0a0a0"/>
<rect x="593" y="0" width="25" height="18" fill="url(#dots)"/>
<g shape-rendering="geometricPrecision"><polygon points="600.2,1 600.2,13.2 603.1,10.6 605.6,15.4 607.6,14.4 605.2,9.7 608.8,9.4" fill="#505050"/></g>
<rect x="632" y="1" width="1" height="6" fill="#505050"/>
<rect x="632" y="10" width="1" height="6" fill="#505050"/>
<rect x="625" y="8" width="6" height="1" fill="#505050"/>
<rect x="634" y="8" width="6" height="1" fill="#505050"/>
<rect x="632" y="8" width="1" height="1" fill="#505050"/>
<rect x="649" y="0" width="1" height="18" fill="#a0a0a0"/>
<rect x="666" y="2" width="1" height="13" fill="#404040"/>
<rect x="689" y="8" width="12" height="1" fill="#404040"/>
<g shape-rendering="geometricPrecision"><line x1="716.8" y1="14.8" x2="729" y2="3" stroke="#505050" stroke-width="1.1"/>
<g stroke="#404040" stroke-width="0.9" fill="none"><line x1="743" y1="10" x2="753.5" y2="2.2"/><line x1="744.5" y1="13.6" x2="757" y2="4.2"/><line x1="746.5" y1="15.2" x2="758" y2="6.6"/>
<path d="M745.5,8.6 l1,5 M748,7 l0.8,5 M750.4,5 l0.9,5 M752.6,3.4 l1,5 M755.2,0 l0.4,4.4"/></g>
</g>
<text x="753.6" y="16.8" font-family="Liberation Sans, sans-serif" font-size="6.5" font-weight="bold" fill="#303030">E</text>
<rect x="772" y="1" width="1" height="1" fill="#505050"/>
<rect x="774" y="1" width="1" height="1" fill="#505050"/>
<rect x="776" y="1" width="1" height="1" fill="#505050"/>
<rect x="778" y="1" width="1" height="1" fill="#505050"/>
<rect x="780" y="1" width="1" height="1" fill="#505050"/>
<rect x="782" y="1" width="1" height="1" fill="#505050"/>
<rect x="784" y="1" width="1" height="1" fill="#505050"/>
<rect x="772" y="4" width="1" height="1" fill="#505050"/>
<rect x="774" y="4" width="1" height="1" fill="#505050"/>
<rect x="776" y="4" width="1" height="1" fill="#505050"/>
<rect x="778" y="4" width="1" height="1" fill="#505050"/>
<rect x="780" y="4" width="1" height="1" fill="#505050"/>
<rect x="782" y="4" width="1" height="1" fill="#505050"/>
<rect x="784" y="4" width="1" height="1" fill="#505050"/>
<rect x="772" y="6" width="1" height="1" fill="#505050"/>
<rect x="774" y="6" width="1" height="1" fill="#505050"/>
<rect x="776" y="6" width="1" height="1" fill="#505050"/>
<rect x="778" y="6" width="1" height="1" fill="#505050"/>
<rect x="780" y="6" width="1" height="1" fill="#505050"/>
<rect x="782" y="6" width="1" height="1" fill="#505050"/>
<rect x="784" y="6" width="1" height="1" fill="#505050"/>
<rect x="772" y="8" width="1" height="1" fill="#505050"/>
<rect x="774" y="8" width="1" height="1" fill="#505050"/>
<rect x="776" y="8" width="1" height="1" fill="#505050"/>
<rect x="778" y="8" width="1" height="1" fill="#505050"/>
<rect x="780" y="8" width="1" height="1" fill="#505050"/>
<rect x="782" y="8" width="1" height="1" fill="#505050"/>
<rect x="784" y="8" width="1" height="1" fill="#505050"/>
<rect x="772" y="12" width="1" height="1" fill="#505050"/>
<rect x="774" y="12" width="1" height="1" fill="#505050"/>
<rect x="776" y="12" width="1" height="1" fill="#505050"/>
<rect x="778" y="12" width="1" height="1" fill="#505050"/>
<rect x="780" y="12" width="1" height="1" fill="#505050"/>
<text x="781.6" y="16.8" font-family="Liberation Sans, sans-serif" font-size="6.5" font-weight="bold" fill="#303030">F</text>
<text x="802.2" y="13" font-family="Liberation Sans, sans-serif" font-size="12" fill="#404040" stroke="#404040" stroke-width="0.5">A</text>
<rect x="829" y="1" width="1" height="1" fill="#505050"/>
<rect x="829" y="14" width="1" height="1" fill="#505050"/>
<rect x="831" y="1" width="1" height="1" fill="#505050"/>
<rect x="831" y="14" width="1" height="1" fill="#505050"/>
<rect x="833" y="1" width="1" height="1" fill="#505050"/>
<rect x="833" y="14" width="1" height="1" fill="#505050"/>
<rect x="835" y="1" width="1" height="1" fill="#505050"/>
<rect x="835" y="14" width="1" height="1" fill="#505050"/>
<rect x="837" y="1" width="1" height="1" fill="#505050"/>
<rect x="837" y="14" width="1" height="1" fill="#505050"/>
<rect x="839" y="1" width="1" height="1" fill="#505050"/>
<rect x="839" y="14" width="1" height="1" fill="#505050"/>
<rect x="829" y="1" width="1" height="1" fill="#505050"/>
<rect x="840" y="1" width="1" height="1" fill="#505050"/>
<rect x="829" y="3" width="1" height="1" fill="#505050"/>
<rect x="840" y="3" width="1" height="1" fill="#505050"/>
<rect x="829" y="5" width="1" height="1" fill="#505050"/>
<rect x="840" y="5" width="1" height="1" fill="#505050"/>
<rect x="829" y="7" width="1" height="1" fill="#505050"/>
<rect x="840" y="7" width="1" height="1" fill="#505050"/>
<rect x="829" y="9" width="1" height="1" fill="#505050"/>
<rect x="840" y="9" width="1" height="1" fill="#505050"/>
<rect x="829" y="11" width="1" height="1" fill="#505050"/>
<rect x="840" y="11" width="1" height="1" fill="#505050"/>
<rect x="829" y="13" width="1" height="1" fill="#505050"/>
<rect x="840" y="13" width="1" height="1" fill="#505050"/>
<rect x="829" y="1" width="2" height="1" fill="#404040"/>
<rect x="831.3" y="5" width="7.2" height="1.6" fill="#484848" shape-rendering="geometricPrecision"/><rect x="834.1" y="5" width="1.7" height="7.6" fill="#484848" shape-rendering="geometricPrecision"/>
<g shape-rendering="geometricPrecision"><polygon points="859.5,2 863,5 859.5,8 856,5" fill="#404040"/><polygon points="867,8.6 870.6,11.6 867,14.6 863.4,11.6" fill="#404040"/>
<path d="M858.6,8.6 L861.2,11.4 L866.4,5.6" fill="none" stroke="#404040" stroke-width="1.3"/></g>
<rect x="877" y="7" width="5" height="1" fill="#000"/>
<rect x="878" y="8" width="3" height="1" fill="#000"/>
<rect x="879" y="9" width="1" height="1" fill="#000"/>
<rect x="888" y="0" width="1" height="20" fill="#a0a0a0"/>
<rect x="889" y="0" width="1" height="20" fill="#fff"/>
<rect x="892" y="0" width="3" height="1" fill="#a8a8a8"/>
<rect x="892" y="2" width="3" height="1" fill="#a8a8a8"/>
<rect x="892" y="4" width="3" height="1" fill="#a8a8a8"/>
<rect x="892" y="6" width="3" height="1" fill="#a8a8a8"/>
<rect x="892" y="8" width="3" height="1" fill="#a8a8a8"/>
<rect x="892" y="10" width="3" height="1" fill="#a8a8a8"/>
<rect x="892" y="12" width="3" height="1" fill="#a8a8a8"/>
<rect x="892" y="14" width="3" height="1" fill="#a8a8a8"/>
<rect x="892" y="16" width="3" height="1" fill="#a8a8a8"/>
<rect x="1038" y="0" width="1" height="18" fill="#a0a0a0"/>
<rect x="1039" y="0" width="24" height="18" fill="url(#dots)"/>
<rect x="1149" y="0" width="1" height="20" fill="#a0a0a0"/>
<rect x="1150" y="0" width="1" height="20" fill="#fff"/>
<g font-family="Liberation Sans, sans-serif" font-size="9.6" fill="#383838">
<text x="903.2" y="12">M1</text>
<text x="931.3" y="12">M5</text>
<text x="957.4" y="12">M15</text>
<text x="985.4" y="12">M30</text>
<text x="1016" y="12">H1</text>
<text x="1043" y="12">H4</text>
<text x="1072.2" y="12">D1</text>
<text x="1100" y="12">W1</text>
<text x="1126.2" y="12">MN</text>
</g>
<g shape-rendering="geometricPrecision">
<line x1="1616.6" y1="8.4" x2="1612.6" y2="12.8" stroke="#1a52c8" stroke-width="2.6" stroke-linecap="round"/>
<circle cx="1619.6" cy="5.5" r="3.8" fill="#f4f4f8" stroke="#2462d4" stroke-width="1.3"/>
<path d="M1639.2,16.6 L1640.2,13.4 Q1636.4,12.4 1636.4,9.4 Q1636.6,5.2 1643.5,5 Q1650.6,5.2 1650.8,9.4 Q1650.6,13.6 1643.5,13.8 L1642,13.8 Z" fill="#e8e8f0" stroke="#a8a8a8" stroke-width="0.8"/>
<circle cx="1650.5" cy="5.9" r="8.1" fill="url(#badge)"/>
</g>
<text x="1646.6" y="9.4" font-family="Liberation Serif, serif" font-size="12.5" font-weight="bold" fill="#fff">1</text>
<g font-family="Liberation Sans, Noto Sans CJK SC, sans-serif" font-size="11.4" fill="#000" stroke="#000" stroke-width="0.2">
<text x="6.8" y="11.2" textLength="36.6" lengthAdjust="spacing">新订单</text>
<text x="159.5" y="11.2" textLength="47.6" lengthAdjust="spacing">自动交易</text>
</g>
</svg>
</div>
</body></html>
